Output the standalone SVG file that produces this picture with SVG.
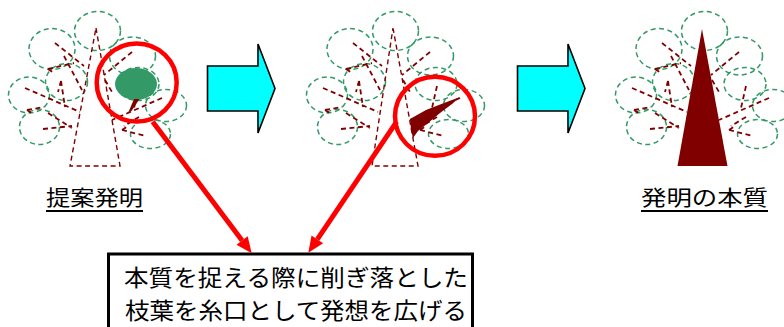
<svg xmlns="http://www.w3.org/2000/svg" xmlns:xlink="http://www.w3.org/1999/xlink" width="784" height="327" viewBox="0 0 784 327">
  <style>
    .leaf { fill: none; stroke: #339966; stroke-width: 1.5; stroke-dasharray: 5 3.5; }
    .br { fill: none; stroke: #800000; stroke-width: 1.8; stroke-dasharray: 5 3.5; stroke-linecap: butt; }
    .trunk-o { fill: none; stroke: #800000; stroke-width: 1.4; stroke-dasharray: 5 3.5; }
    .shift { fill: #00ffff; stroke: #000; stroke-width: 1.6; stroke-linejoin: miter; }
    .lens { fill: none; stroke: #ff0000; stroke-width: 4.5; }
    .handle { fill: none; stroke: #ff0000; stroke-width: 5; }
    .head { fill: #ff0000; }
    .lbl { font-family: "Noto Sans CJK JP", "Noto Sans", sans-serif; fill: #000; }
  </style>
  <defs>
    <!-- crown of dashed leaf circles -->
    <g id="crown">
      <ellipse class="leaf" cx="97.5" cy="31" rx="23" ry="19.5"/>
      <ellipse class="leaf" cx="52" cy="49" rx="23" ry="20.5"/>
      <ellipse class="leaf" cx="132.5" cy="56" rx="23" ry="19"/>
      <ellipse class="leaf" cx="66.5" cy="82" rx="21" ry="18.5"/>
      <ellipse class="leaf" cx="29" cy="95" rx="20.5" ry="18"/>
      <ellipse class="leaf" cx="39.5" cy="127" rx="20" ry="17.5"/>
      <ellipse class="leaf" cx="138" cy="84" rx="21" ry="16.5"/>
      <ellipse class="leaf" cx="166" cy="105.5" rx="20.5" ry="16"/>
      <ellipse class="leaf" cx="150.5" cy="134" rx="20" ry="14.5"/>
    </g>
    <!-- dashed branches -->
    <path id="branches" class="br" d="M55,43 L84,66 M64,56 L82,90 M48,69 L74,63 M48,69 L54,73 M25,88 L80,112 M61,81 L65,107 M61,81 L58,92 M43,129 L72,126 M48,113 L72,128 M27,110 L44,107 M27,110 L33,114 M132,52 L104,75 M105,80 L112,92 M139,86 L134,108 M162,98 L112,120 M122,130 L146,136 M122,130 L128,126 M139,117 L124,126"/>
    <path id="shiftArrow" class="shift" d="M207.5,66 H258 V44 L275,88.5 L258,133 V111 H207.5 Z"/>
  </defs>

  <!-- left tree: the proposed invention -->
  <g id="tree-proposed">
    <use xlink:href="#crown"/>
    <use xlink:href="#branches"/>
    <path class="trunk-o" d="M96,28 L120,166 H70 Z"/>
    <ellipse cx="136" cy="84" rx="21" ry="16" fill="#339966"/>
    <path d="M134,99 L139.5,99 L131.5,111 L128.5,112 Z" fill="#800000"/>
    <ellipse class="lens" cx="136.7" cy="82.5" rx="40" ry="39"/>
  </g>

  <!-- middle tree -->
  <g id="tree-middle" transform="translate(298,0)">
    <use xlink:href="#crown"/>
    <use xlink:href="#branches"/>
    <path class="trunk-o" d="M95,28 L120,166 H74 Z"/>
    <path d="M112,119 L128,110 L146,103 L162,97 L154,104 L142,113 L130,123 L120,131 L115,138 L113,130 Z" fill="#800000"/>
    <ellipse class="lens" cx="137" cy="116.3" rx="40" ry="39.5"/>
  </g>

  <!-- right tree: the essence of the invention -->
  <g id="tree-essence" transform="translate(607,0)">
    <use xlink:href="#crown"/>
    <use xlink:href="#branches"/>
    <path d="M95,29 L120.5,166 H70.5 Z" fill="#800000"/>
  </g>

  <!-- step arrows -->
  <g id="step-1"><use xlink:href="#shiftArrow"/></g>
  <g id="step-2" transform="translate(310,0)"><use xlink:href="#shiftArrow"/></g>

  <!-- labels -->
  <g id="label-proposed">
    <text class="lbl" x="46" y="205" font-size="21" textLength="97" lengthAdjust="spacingAndGlyphs">提案発明</text>
    <line x1="46" y1="211" x2="143" y2="211" stroke="#000" stroke-width="1.8"/>
  </g>
  <g id="label-essence">
    <text class="lbl" x="641" y="205" font-size="21" textLength="127" lengthAdjust="spacingAndGlyphs">発明の本質</text>
    <line x1="641" y1="211" x2="768" y2="211" stroke="#000" stroke-width="1.8"/>
  </g>

  <!-- note box -->
  <g id="note">
    <rect x="108.5" y="254" width="364" height="80" fill="#fff" stroke="#000" stroke-width="3"/>
    <text class="lbl" x="124" y="286" font-size="23" textLength="344" lengthAdjust="spacingAndGlyphs">本質を捉える際に削ぎ落とした</text>
    <text class="lbl" x="125" y="319" font-size="23" textLength="342" lengthAdjust="spacingAndGlyphs">枝葉を糸口として発想を広げる</text>
  </g>

  <!-- connectors: lens handles pointing at the note -->
  <g id="connectors">
    <line class="handle" x1="152.7" y1="121.7" x2="242.1" y2="240.5"/>
    <polygon class="head" points="251.7,253.3 236.5,244.7 247.7,236.3"/>
    <line class="handle" x1="396.7" y1="121.7" x2="317.3" y2="239.4"/>
    <polygon class="head" points="308.3,252.7 311.5,235.5 323.1,243.3"/>
  </g>
</svg>
